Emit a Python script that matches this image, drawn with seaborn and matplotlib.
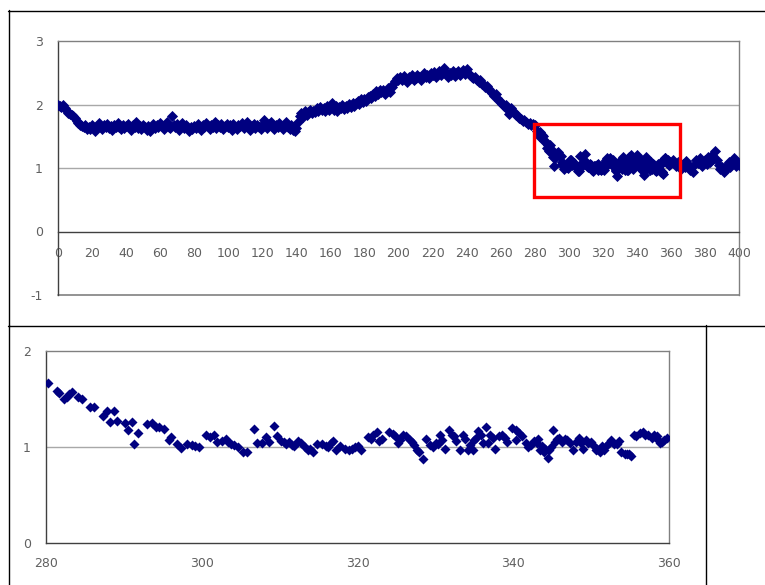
import numpy as np
import pandas as pd
import matplotlib
matplotlib.use("Agg")
import matplotlib.pyplot as plt
import matplotlib.patches as mpatches
from matplotlib.lines import Line2D
from matplotlib.ticker import MultipleLocator
import seaborn as sns

# ---------------- data ----------------
# top chart, one value per unit of x
top_x_000_279 = list(range(0, 280))
top_y_000_099 = [
    2.00, 1.98, 1.96, 1.99, 1.95, 1.90, 1.87, 1.85, 1.84, 1.82, 1.78, 1.74, 1.71, 1.68, 1.66, 1.64, 1.67, 1.62, 1.65, 1.61,
    1.68, 1.63, 1.59, 1.66, 1.71, 1.64, 1.61, 1.67, 1.65, 1.70, 1.63, 1.66, 1.60, 1.68, 1.64, 1.71, 1.65, 1.61, 1.67, 1.63,
    1.66, 1.70, 1.64, 1.60, 1.67, 1.65, 1.72, 1.63, 1.66, 1.61, 1.68, 1.64, 1.60, 1.66, 1.58, 1.65, 1.70, 1.63, 1.67, 1.64,
    1.71, 1.66, 1.61, 1.68, 1.72, 1.65, 1.63, 1.82, 1.67, 1.64, 1.70, 1.60, 1.66, 1.71, 1.63, 1.67, 1.65, 1.59, 1.64, 1.61,
    1.66, 1.63, 1.69, 1.65, 1.60, 1.67, 1.64, 1.71, 1.66, 1.61, 1.68, 1.65, 1.72, 1.63, 1.67, 1.64, 1.70, 1.61, 1.66, 1.69,
]
top_y_100_199 = [
    1.64, 1.67, 1.60, 1.70, 1.65, 1.61, 1.68, 1.66, 1.71, 1.63, 1.67, 1.73, 1.64, 1.60, 1.66, 1.70, 1.63, 1.67, 1.65, 1.61,
    1.68, 1.76, 1.66, 1.63, 1.70, 1.72, 1.65, 1.61, 1.67, 1.64, 1.71, 1.66, 1.62, 1.68, 1.72, 1.65, 1.61, 1.67, 1.60, 1.59,
    1.63, 1.72, 1.82, 1.86, 1.80, 1.89, 1.84, 1.88, 1.92, 1.86, 1.90, 1.88, 1.94, 1.89, 1.96, 1.91, 1.94, 1.90, 1.97, 1.92,
    1.95, 2.03, 1.92, 1.97, 1.90, 1.96, 1.94, 2.00, 1.93, 1.97, 1.95, 2.01, 1.96, 2.03, 1.98, 2.02, 2.06, 2.01, 2.08, 2.04,
    2.09, 2.05, 2.12, 2.14, 2.10, 2.17, 2.13, 2.21, 2.16, 2.23, 2.19, 2.23, 2.17, 2.21, 2.26, 2.20, 2.27, 2.33, 2.37, 2.41,
]
top_y_200_279 = [
    2.38, 2.43, 2.39, 2.45, 2.40, 2.36, 2.43, 2.41, 2.46, 2.38, 2.42, 2.47, 2.43, 2.39, 2.45, 2.49, 2.44, 2.47, 2.41, 2.50,
    2.46, 2.51, 2.44, 2.48, 2.52, 2.46, 2.53, 2.57, 2.49, 2.44, 2.50, 2.47, 2.53, 2.45, 2.49, 2.52, 2.47, 2.50, 2.54, 2.48,
    2.56, 2.50, 2.46, 2.44, 2.41, 2.43, 2.38, 2.36, 2.39, 2.33, 2.30, 2.27, 2.29, 2.24, 2.21, 2.18, 2.14, 2.16, 2.10, 2.06,
    2.04, 2.01, 1.97, 1.99, 1.93, 1.85, 1.95, 1.90, 1.87, 1.84, 1.82, 1.79, 1.77, 1.74, 1.76, 1.72, 1.70, 1.71, 1.68, 1.69,
]
top_x_361_400 = list(range(361, 401))
top_y_361_400 = [
    1.12, 1.08, 1.03, 1.10, 1.05, 0.99, 1.07, 1.02, 1.11, 1.04, 0.97, 1.01, 0.94, 1.06, 1.12, 1.08, 1.15, 1.03, 1.09, 1.13,
    1.06, 1.17, 1.10, 1.21, 1.14, 1.27, 1.12, 1.05, 0.98, 1.02, 0.93, 0.97, 1.04, 1.09, 1.01, 1.07, 1.15, 1.03, 1.10, 1.05,
]

# zoomed window 280-360 (individual points)
zoom_x = [
    280.3, 281.4, 281.7, 282.3, 282.7, 283.0, 283.3, 284.1, 284.6, 285.6, 286.1, 287.3, 287.8, 288.2, 288.7, 289.1,
    290.1, 290.5, 291.0, 291.3, 291.8, 293.0, 293.6, 294.1, 294.5, 295.2, 295.8, 296.1, 296.8, 297.3, 298.1, 298.7,
    299.1, 299.6, 300.5, 301.1, 301.6, 302.0, 302.6, 303.1, 303.4, 303.8, 304.2, 304.6, 305.3, 305.8, 306.7, 307.1,
    307.8, 308.3, 308.6, 309.3, 309.6, 310.2, 310.5, 310.8, 311.2, 311.6, 311.9, 312.4, 312.8, 313.2, 313.6, 313.9,
    314.3, 314.8, 315.5, 315.9, 316.2, 316.6, 316.9, 317.3, 317.8, 318.4, 318.9, 319.3, 319.7, 320.1, 320.5, 321.3,
    321.7, 322.0, 322.5, 322.8, 323.2, 324.0, 324.5, 324.8, 325.2, 325.4, 325.8, 326.2, 326.7, 327.0, 327.3, 327.6,
    327.9, 328.4, 328.8, 329.3, 329.7, 330.1, 330.4, 330.6, 330.8, 331.3, 331.7, 332.1, 332.4, 332.7, 333.1, 333.5,
    333.8, 334.2, 334.5, 334.8, 335.0, 335.2, 335.5, 335.8, 336.1, 336.5, 336.8, 337.0, 337.4, 337.7, 338.2, 338.6,
    338.9, 339.2, 339.9, 340.3, 340.4, 340.7, 341.1, 341.6, 341.9, 342.3, 342.7, 343.0, 343.2, 343.4, 343.7, 343.9,
    344.1, 344.4, 344.6, 344.8, 345.1, 345.4, 345.6, 345.9, 346.2, 346.6, 346.9, 347.3, 347.7, 348.0, 348.4, 348.7,
    349.0, 349.3, 349.6, 350.0, 350.3, 350.6, 350.8, 351.1, 351.4, 351.7, 352.0, 352.3, 352.6, 353.0, 353.3, 353.6,
    353.9, 354.3, 354.6, 354.9, 355.1, 355.5, 355.8, 356.3, 356.6, 356.9, 357.3, 357.8, 358.1, 358.4, 358.6, 358.8,
    359.1, 359.4, 359.7,
]
zoom_y = [
    1.67, 1.58, 1.56, 1.50, 1.52, 1.55, 1.57, 1.52, 1.50, 1.42, 1.42, 1.32, 1.37, 1.26, 1.37, 1.27,
    1.25, 1.18, 1.26, 1.03, 1.15, 1.24, 1.25, 1.21, 1.21, 1.19, 1.07, 1.10, 1.03, 0.99, 1.03, 1.02,
    1.01, 1.00, 1.12, 1.10, 1.12, 1.05, 1.06, 1.08, 1.05, 1.03, 1.02, 1.00, 0.95, 0.95, 1.19, 1.04,
    1.04, 1.10, 1.05, 1.22, 1.11, 1.06, 1.05, 1.03, 1.05, 1.02, 1.01, 1.06, 1.04, 1.00, 0.97, 0.98,
    0.95, 1.03, 1.03, 1.01, 1.00, 1.04, 1.06, 0.97, 1.01, 0.98, 0.97, 0.98, 1.00, 1.01, 0.97, 1.10,
    1.08, 1.13, 1.16, 1.06, 1.08, 1.16, 1.14, 1.11, 1.04, 1.07, 1.12, 1.11, 1.07, 1.05, 1.02, 0.97,
    0.95, 0.88, 1.08, 1.02, 1.00, 1.04, 1.03, 1.13, 1.07, 0.98, 1.18, 1.13, 1.11, 1.06, 0.97, 1.12,
    1.08, 0.97, 1.02, 0.97, 1.07, 1.09, 1.17, 1.12, 1.04, 1.21, 1.04, 1.12, 1.09, 0.98, 1.11, 1.13,
    1.09, 1.05, 1.20, 1.07, 1.18, 1.15, 1.11, 1.04, 1.00, 1.02, 1.06, 1.04, 1.08, 0.97, 1.01, 0.95,
    0.98, 0.89, 0.97, 1.00, 1.18, 1.05, 1.08, 1.09, 1.05, 1.08, 1.07, 1.04, 0.97, 1.05, 1.09, 1.04,
    0.98, 1.07, 1.04, 1.05, 1.02, 0.97, 0.98, 0.95, 1.01, 0.97, 1.02, 1.04, 1.07, 1.03, 1.03, 1.06,
    0.95, 0.93, 0.93, 0.93, 0.91, 1.12, 1.11, 1.15, 1.16, 1.13, 1.13, 1.09, 1.13, 1.11, 1.07, 1.04,
    1.05, 1.07, 1.09,
]

top_ticks_x = list(range(0, 401, 20))
top_ticks_y = [-1, 0, 1, 2, 3]
zoom_ticks_x = [280, 300, 320, 340, 360]
zoom_ticks_y = [0, 1, 2]

full = pd.DataFrame({
    "x": top_x_000_279 + zoom_x + top_x_361_400,
    "y": top_y_000_099 + top_y_100_199 + top_y_200_279 + zoom_y + top_y_361_400,
})
zoom = pd.DataFrame({"x": zoom_x, "y": zoom_y})

# ---------------- styling ----------------
sns.set_style("white")
plt.rcParams["font.family"] = ["DejaVu Sans"]

W, H = 765, 585
fig = plt.figure(figsize=(W / 100, H / 100), dpi=100)

def frac_rect(l, t, r, b):
    return [l / W, 1 - b / H, (r - l) / W, (b - t) / H]

NAVY = "#000080"
GRAY_TXT = "#606060"
FRAME = "#808080"
AXIS = "#404040"
GRID = "#a8a8a8"

# ---------- top chart ----------
ax1 = fig.add_axes(frac_rect(58, 41, 739, 295))
sns.scatterplot(data=full, x="x", y="y", ax=ax1, marker="D", color=NAVY,
                s=32, linewidth=0, legend=False, zorder=3)
ax1.set_xlim(0, 400)
ax1.set_ylim(-1, 3)
ax1.set_xlabel("")
ax1.set_ylabel("")
ax1.set_xticks(top_ticks_x)
ax1.set_xticklabels([str(v) for v in top_ticks_x])
ax1.set_yticks(top_ticks_y)
ax1.set_yticklabels([str(v) for v in top_ticks_y])
ax1.yaxis.set_minor_locator(MultipleLocator(0.5))
for yv in [1, 2]:
    ax1.axhline(yv, color=GRID, lw=1, zorder=1)
ax1.spines["bottom"].set_position(("data", 0))
ax1.spines["bottom"].set_color(AXIS)
ax1.spines["left"].set_color(AXIS)
ax1.spines["top"].set_color(FRAME)
ax1.spines["right"].set_color(FRAME)
for s in ax1.spines.values():
    s.set_linewidth(1.0)
ax1.axhline(-1, color=FRAME, lw=1.2, zorder=2, clip_on=False)
ax1.tick_params(axis="x", direction="in", length=4, width=1, color=AXIS,
                pad=11, labelsize=9, labelcolor=GRAY_TXT)
ax1.tick_params(axis="y", which="major", direction="out", length=5, width=1,
                color=AXIS, pad=6, labelsize=9, labelcolor=GRAY_TXT)
ax1.tick_params(axis="y", which="minor", direction="out", length=3, width=1, color=AXIS)
ax1.add_patch(mpatches.Rectangle((279.7, 0.55), 85.6, 1.14, fill=False,
                                 edgecolor="#ff0000", lw=2.4, zorder=5, clip_on=False))

# ---------- zoom chart ----------
ax2 = fig.add_axes(frac_rect(46, 351, 669, 543))
sns.scatterplot(data=zoom, x="x", y="y", ax=ax2, marker="D", color=NAVY,
                s=26, linewidth=0, legend=False, zorder=3)
ax2.set_xlim(280, 360)
ax2.set_ylim(0, 2)
ax2.set_xlabel("")
ax2.set_ylabel("")
ax2.set_xticks(zoom_ticks_x)
ax2.set_xticklabels([str(v) for v in zoom_ticks_x])
ax2.set_yticks(zoom_ticks_y)
ax2.set_yticklabels([str(v) for v in zoom_ticks_y])
ax2.yaxis.set_minor_locator(MultipleLocator(0.5))
ax2.axhline(1, color=GRID, lw=1, zorder=1)
ax2.spines["bottom"].set_color(AXIS)
ax2.spines["left"].set_color(AXIS)
ax2.spines["top"].set_color(FRAME)
ax2.spines["right"].set_color(FRAME)
for s in ax2.spines.values():
    s.set_linewidth(1.0)
ax2.tick_params(axis="x", direction="in", length=3, width=1, color="black",
                pad=10, labelsize=9, labelcolor=GRAY_TXT)
ax2.tick_params(axis="y", which="major", direction="out", length=5, width=1,
                color=AXIS, pad=6, labelsize=9, labelcolor=GRAY_TXT)
ax2.tick_params(axis="y", which="minor", direction="out", length=3, width=1, color=AXIS)

# ---------- outer chart borders ----------
def fline(x0, y0, x1, y1):
    fig.add_artist(Line2D([x0 / W, x1 / W], [1 - y0 / H, 1 - y1 / H],
                          color="black", lw=1.0, transform=fig.transFigure))

fline(8, 10.5, 765, 10.5)
fline(8.5, 10, 8.5, 325)
fline(8, 325.5, 765, 325.5)
fline(8.5, 325, 8.5, 585)
fline(705.5, 325, 705.5, 585)

fig.savefig("out.png", dpi=100)
